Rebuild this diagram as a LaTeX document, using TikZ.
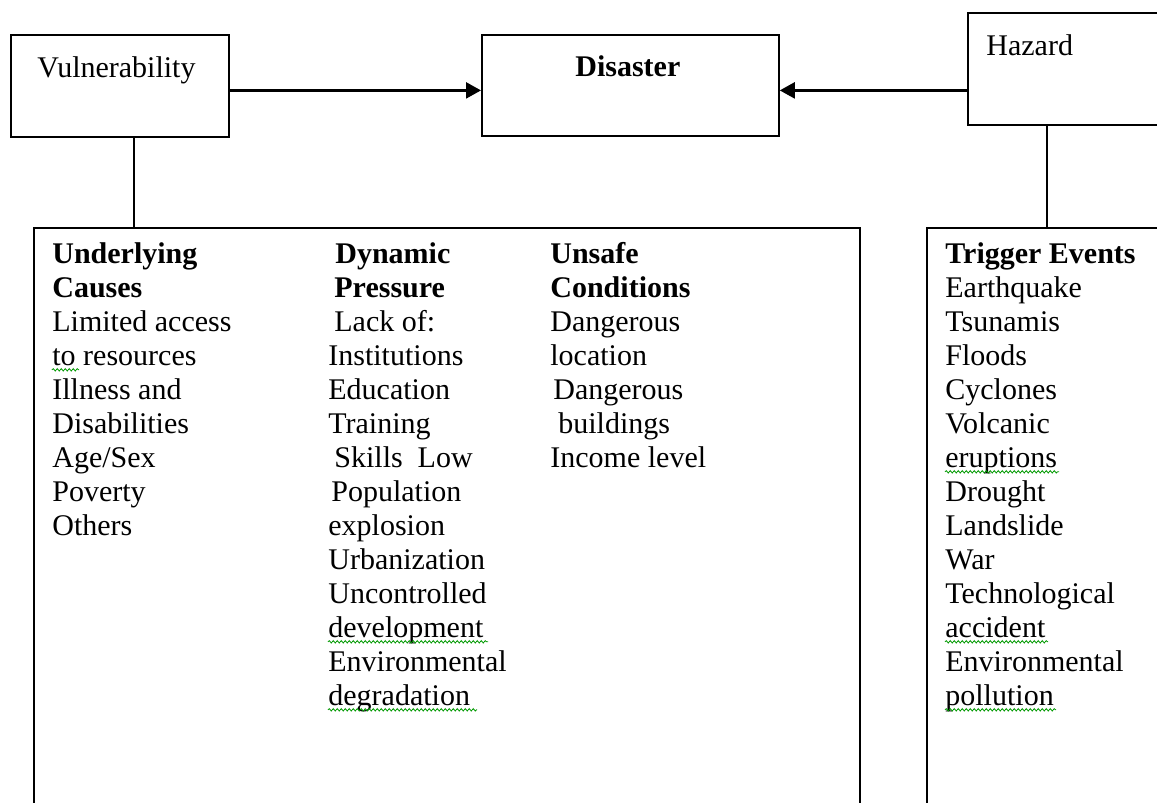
\documentclass[tikz,border=0pt]{standalone}
\usepackage{fontspec}
\setmainfont{Liberation Serif}
\usetikzlibrary{arrows.meta,calc,positioning,decorations.pathmorphing}

% green spell-check squiggle: column node, line number, word width
\newcommand\spellmark[3]{\draw[squig] ($(#1.north west)+(0,{28.8+34*#2})$) -- ++(#3,0);}

\begin{document}
\begin{tikzpicture}[x=0.5pt,y=-0.5pt,
  box/.style={draw,line width=0.9pt,inner sep=0pt,anchor=north west},
  lbl/.style={inner sep=0pt,anchor=base west,font=\fontsize{15}{17}\selectfont},
  col/.style={inner sep=0pt,anchor=north west,align=left,font=\fontsize{15}{17}\selectfont},
  arr/.style={line width=1.2pt,-{Triangle[length=7.5pt,width=8pt]}},
  link/.style={line width=0.9pt},
  squig/.style={green!60!black,line width=0.4pt,decorate,
    decoration={snake,amplitude=0.6pt,segment length=2pt}}]
  \clip (0,0) rectangle (1157,803);
  \fill[white] (0,0) rectangle (1157,803);

  % top row
  \node[box,minimum width=109pt,minimum height=51pt] (vul) at (10,34) {};
  \node[box,minimum width=148.5pt,minimum height=50.5pt] (dis) at (481,34) {};
  \node[box,minimum width=96pt,minimum height=56pt] (haz) at (967,12) {};
  \node[lbl] (vultext) at ($(vul.north west)+(27,43)$) {Vulnerability};
  \node[lbl] (distext) at ($(dis.north west)+(94,42)$) {\textbf{Disaster}};
  \node[lbl] (haztext) at ($(haz.north west)+(19,43)$) {Hazard};

  % lower boxes
  \node[box,minimum width=413pt,minimum height=300pt] (causes) at (33,227) {};
  \node[box,minimum width=125pt,minimum height=300pt] (trig) at (926,227) {};

  % connectors
  \coordinate (ar) at ([yshift=-2.5pt]dis.west);
  \draw[arr] (vul.east |- ar) -- (ar);
  \draw[arr] (haz.west |- ar) -- (dis.east |- ar);
  \coordinate (v) at ([xshift=62pt]vul.south west);
  \draw[link] (v) -- (v |- causes.north);
  \coordinate (h) at ([xshift=40pt]haz.south west);
  \draw[link] (h) -- (h |- trig.north);

  % columns
  \node[col] (under) at ($(causes.north west)+(19,12)$) {\strut\textbf{Underlying}\\
    \textbf{Causes}\\
    Limited access\\
    to resources\\
    Illness and\\
    Disabilities\\
    Age/Sex\\
    Poverty\\
    Others};
  \node[col] (dyn) at ($(causes.north west)+(295,12)$) {\strut\hspace{3.5pt}\textbf{Dynamic}\\
    \hspace{3pt}\textbf{Pressure}\\
    \hspace{3pt}Lack of:\\
    Institutions\\
    Education\\
    Training\\
    \hspace{3pt}Skills\enspace Low\\
    \hspace{1.5pt}Population\\
    explosion\\
    Urbanization\\
    Uncontrolled\\
    development\\
    Environmental\\
    degradation};
  \node[col] (unsafe) at ($(causes.north west)+(517,12)$) {\strut\textbf{Unsafe}\\
    \textbf{Conditions}\\
    Dangerous\\
    location\\
    \hspace{1.5pt}Dangerous\\
    \hspace{4pt}buildings\\
    Income level};
  \node[col] (events) at ($(trig.north west)+(19,12)$) {\strut\textbf{Trigger Events}\\
    Earthquake\\
    Tsunamis\\
    Floods\\
    Cyclones\\
    Volcanic\\
    eruptions\\
    Drought\\
    Landslide\\
    War\\
    Technological\\
    accident\\
    Environmental\\
    pollution};

  % squiggles
  \spellmark{under}{3}{27}
  \spellmark{dyn}{11}{160}
  \spellmark{dyn}{13}{149}
  \spellmark{events}{6}{114}
  \spellmark{events}{11}{103}
  \spellmark{events}{13}{111}
\end{tikzpicture}
\end{document}
